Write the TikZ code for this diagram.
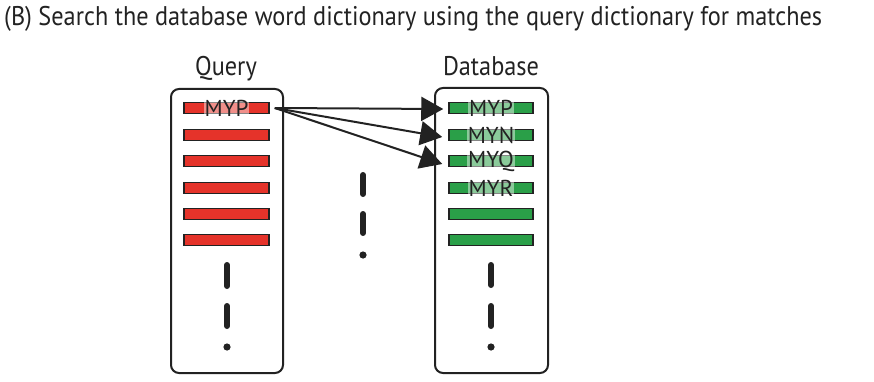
\documentclass[tikz,border=0pt]{standalone}
\usepackage{fontspec}
\setmainfont{PT Sans}[FakeStretch=0.90]
\newfontfamily\wordfont{PT Sans}
\usetikzlibrary{arrows.meta}
\definecolor{qred}{HTML}{E5332A}
\definecolor{dgreen}{HTML}{2A9F48}
\definecolor{ink}{HTML}{222222}
\tikzset{
  panel/.style={draw=ink, line width=2pt, rounded corners=8pt},
  qbar/.style={draw=ink, line width=1.5pt, fill=qred, minimum width=85pt, minimum height=11pt, inner sep=0pt},
  dbar/.style={draw=ink, line width=1.5pt, fill=dgreen, minimum width=84pt, minimum height=11pt, inner sep=0pt},
  word/.style={fill=white, fill opacity=0.45, text opacity=1, text=ink, inner sep=1pt, font=\wordfont\fontsize{23}{23}\selectfont},
  vdash/.style={line width=6pt, line cap=round, draw=ink},
  dotmark/.style={fill=ink},
  match/.style={line width=2pt, draw=ink, -{Triangle[length=22pt,width=24pt]}},
  heading/.style={text=ink, inner sep=0pt, font=\fontsize{27}{27}\selectfont}
}
\begin{document}
\begin{tikzpicture}[x=1pt,y=-1pt]
\useasboundingbox (0,0) rectangle (874,382);
\node[heading, anchor=base west] (title) at (4,26) {(B) Search the database word dictionary using the query dictionary for matches};
\node[heading, anchor=base] (qh) at (226,76) {Query};
\node[heading, anchor=base] (dh) at (491,76) {Database};
% panels
\draw[panel] (171,89) rectangle (283,373);
\draw[panel] (435,88) rectangle (548,373);
% bars
\foreach \i/\y in {1/108,2/135,3/161,4/188,5/214,6/240}{
  \node[qbar] (q\i) at (226.5,\y) {};
  \node[dbar] (d\i) at (491,\y) {};
}
\node[word] (wq1) at (q1) {MYP};
\node[word] (wd1) at (d1) {MYP};
\node[word] (wd2) at (d2) {MYN};
\node[word] (wd3) at (d3) {MYQ};
\node[word] (wd4) at (d4) {MYR};
% dashes
\foreach \x/\a/\b/\c/\d/\e in {227/265/286/306/326/347, 491/265/285/306/326/347, 363/175/194/214/233/255}{
  \draw[vdash] (\x,\a) -- (\x,\b);
  \draw[vdash] (\x,\c) -- (\x,\d);
  \fill[dotmark] (\x,\e) circle (3.6pt);
}
% arrows
\coordinate (qs) at ([xshift=5pt]q1.east);
\draw[match] (qs) -- ([xshift=-5pt,yshift=-1pt]d1.west);
\draw[match] (qs) -- ([xshift=-6pt,yshift=-2pt]d2.west);
\draw[match] (qs) -- ([xshift=-6pt,yshift=-3pt]d3.west);
\end{tikzpicture}
\end{document}
